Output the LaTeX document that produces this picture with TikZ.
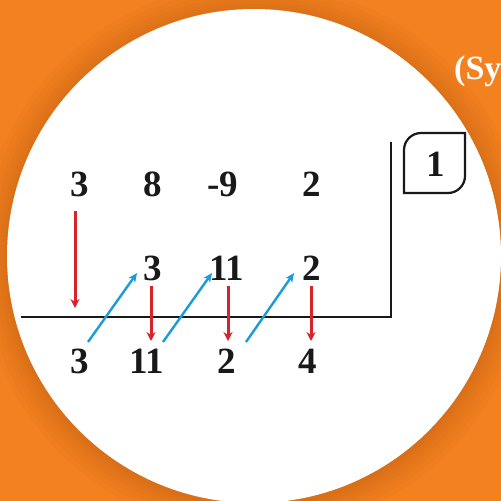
\documentclass[tikz,border=0pt]{standalone}
\usepackage{fontspec}
\setmainfont{Liberation Serif}
\usetikzlibrary{arrows.meta}
\definecolor{bgorange}{HTML}{F4811F}
\definecolor{shadoworange}{HTML}{B85A10}
\definecolor{redarrow}{HTML}{D7232A}
\definecolor{bluearrow}{HTML}{1B9BD9}
\begin{document}
\begin{tikzpicture}[x=1pt,y=-1pt,
  num/.style={font=\fontsize{37}{40}\selectfont\bfseries, text=black!90, inner sep=0pt},
  redarr/.style={draw=redarrow, line width=3pt, -{Stealth[length=9pt,width=9pt,inset=3pt]}},
  bluearr/.style={draw=bluearrow, line width=2.4pt, -{Stealth[length=9pt,width=8pt,inset=2.5pt]}},
  rule/.style={draw=black!90, line width=2.8pt}]
\useasboundingbox (0,0) rectangle (501,501);
\clip (0,0) rectangle (501,501);
\fill[bgorange] (0,0) rectangle (501,501);
% soft shadow around the circle
\foreach \r in {275,270,265,261,257,254,251,249} {
  \fill[shadoworange, opacity=0.06] (254,258) circle (\r);
}
\fill[white] (254,256) circle (247);
\node[anchor=west, inner sep=0pt, text=white, font=\fontsize{34}{36}\selectfont\bfseries] (title) at (454,71) {(Sy};
% division frame
\coordinate (hl) at (21,317);
\coordinate (corner) at (391,317);
\coordinate (vt) at (391,142);
\draw[rule, line cap=butt, line join=miter] (hl) -- (corner) -- (vt);
% divisor box
\draw[line width=2.2pt, black!90]
  (404,150) arc[start angle=180, end angle=270, radius=17] -- (465,133) -- (465,176)
  arc[start angle=0, end angle=90, radius=17] -- (404,193) -- cycle;
\node[num] (d) at (436,164) {1};
% row 1
\node[num] (a1) at (80,184) {3};
\node[num] (a2) at (153,184) {8};
\node[num] (a3) at (223,184) {-9};
\node[num] (a4) at (312,184) {2};
% row 2
\node[num] (b2) at (153,268) {3};
\node[num] (b3) at (227,268) {11};
\node[num] (b4) at (312,268) {2};
% row 3
\node[num] (c1) at (80,361) {3};
\node[num] (c2) at (147,361) {11};
\node[num] (c3) at (227,361) {2};
\node[num] (c4) at (308,361) {4};
% red arrows
\coordinate (r1s) at (75,211); \coordinate (r1e) at (75,308);
\draw[redarr] (r1s) -- (r1e);
\coordinate (r2s) at (151,286); \coordinate (r2e) at (151,341);
\draw[redarr] (r2s) -- (r2e);
\coordinate (r3s) at (228,286); \coordinate (r3e) at (228,341);
\draw[redarr] (r3s) -- (r3e);
\coordinate (r4s) at (311,286); \coordinate (r4e) at (311,341);
\draw[redarr] (r4s) -- (r4e);
% blue arrows
\coordinate (u1s) at (88,342); \coordinate (u1e) at (137,273);
\draw[bluearr] (u1s) -- (u1e);
\coordinate (u2s) at (163,342); \coordinate (u2e) at (212,273);
\draw[bluearr] (u2s) -- (u2e);
\coordinate (u3s) at (246,342); \coordinate (u3e) at (294,273);
\draw[bluearr] (u3s) -- (u3e);
\end{tikzpicture}
\end{document}
